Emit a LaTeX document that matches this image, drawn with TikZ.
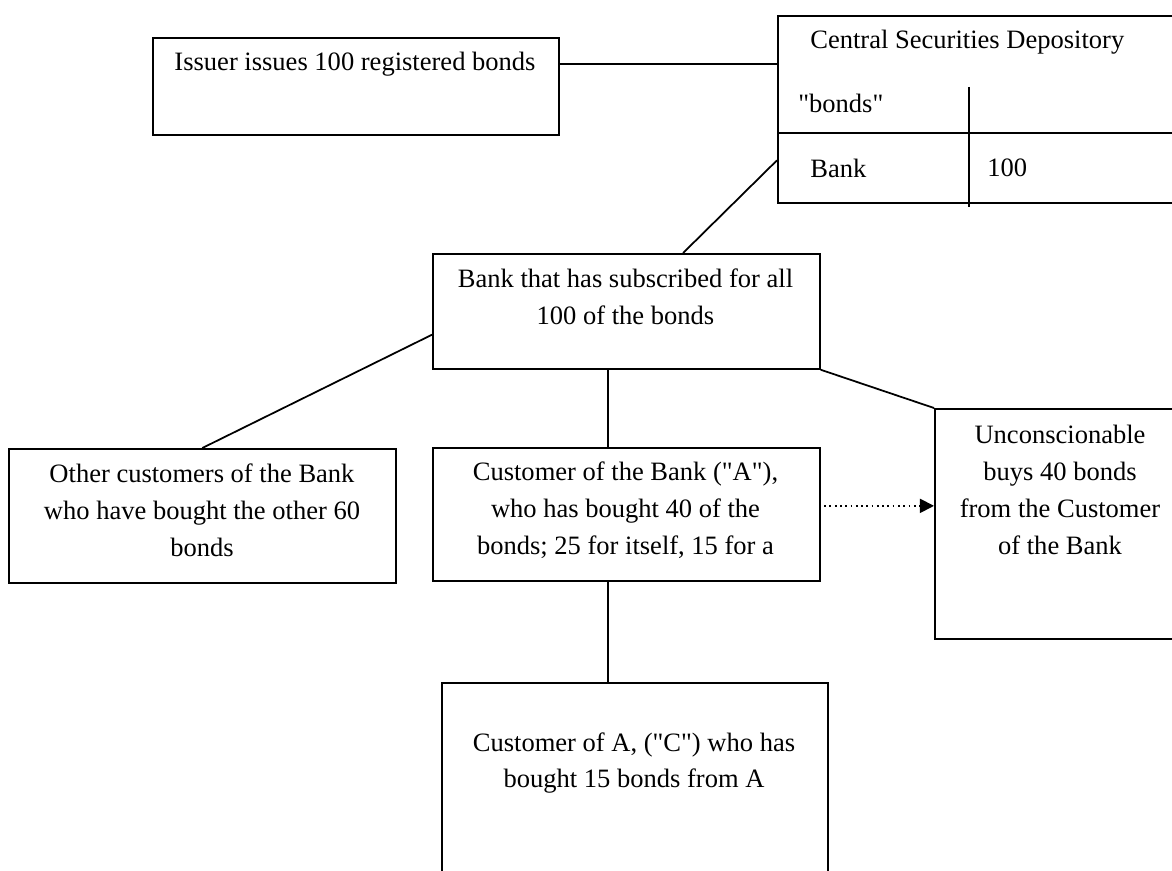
\documentclass[tikz,border=0pt]{standalone}
\usepackage{fontspec}
\setmainfont{Liberation Serif}
\usetikzlibrary{arrows.meta, positioning, calc}

\begin{document}
\begin{tikzpicture}[
        x=0.02cm, y=0.02cm,
        box/.style={rectangle, draw, line width=1pt, anchor=north west, inner sep=0pt},
        txt/.style={align=center, inner sep=0pt, font=\fontsize{15.1pt}{21pt}\selectfont},
        link/.style={line width=1pt},
        flow/.style={line width=1pt, dotted, -{Triangle[length=8pt, width=8pt]}}
    ]
        \clip (0,0) rectangle (1172,870);

        % Boxes
        \node[box, minimum width=8.12cm, minimum height=1.94cm] (issuer) at (152,833) {};
        \node[box, minimum width=8.26cm, minimum height=3.74cm] (csd) at (777,855) {};
        \node[box, minimum width=7.74cm, minimum height=2.30cm] (bank) at (432,617) {};
        \node[box, minimum width=7.74cm, minimum height=2.68cm] (other) at (8,422) {};
        \node[box, minimum width=7.74cm, minimum height=2.66cm] (custA) at (432,423) {};
        \node[box, minimum width=5.20cm, minimum height=4.60cm] (uncon) at (934,462) {};
        \node[box, minimum width=7.72cm, minimum height=4.20cm] (custC) at (441,188) {};

        % Register inside the depository
        \draw[link] (csd.west |- 0,737) -- (csd.east |- 0,737);
        \draw[link] (969,783) -- (969,663);

        % Texts
        \node[txt] (issuer-t) at (355,806) {Issuer issues 100 registered bonds};
        \node[txt, anchor=west] (csd-t) at (810,828) {Central Securities Depository};
        \node[txt, anchor=west] (col-t) at (798,767) {\textquotedbl bonds\textquotedbl};
        \node[txt, anchor=west] (row-t) at (810,702) {Bank};
        \node[txt, anchor=west] (qty-t) at (987,702) {100};
        \node[txt] (bank-t) at (625.5,573) {Bank that has subscribed for all\\100 of the bonds};
        \node[txt] (other-t) at (202,360) {Other customers of the Bank\\who have bought the other 60\\bonds};
        \node[txt] (custA-t) at (625.5,360) {Customer of the Bank (\textquotedbl A\textquotedbl),\\who has bought 40 of the\\bonds; 25 for itself, 15 for a};
        \node[txt] (uncon-t) at (1060,380) {Unconscionable\\buys 40 bonds\\from the Customer\\of the Bank};
        \node[txt] (custC-t) at (634,107) {Customer of A, (\textquotedbl C\textquotedbl) who has\\bought 15 bonds from A};

        % Connections
        \coordinate (issuer-r) at ($(issuer.north east)!0.27!(issuer.south east)$);
        \draw[link] (issuer-r) -- (issuer-r -| csd.west);
        \draw[link] ($(csd.south west)!0.23!(csd.north west)$) -- ($(bank.north west)!0.646!(bank.north east)$);
        \draw[link] ($(bank.north west)!0.70!(bank.south west)$) -- (other.north);
        \coordinate (trunk) at ($(bank.south west)!0.452!(bank.south east)$);
        \draw[link] (trunk) -- (trunk |- custA.north);
        \draw[link] (trunk |- custA.south) -- (trunk |- custC.north);
        \draw[link] (bank.south east) -- (uncon.north west);

        % Sale to Unconscionable
        \coordinate (sale) at ($(custA.east)+(0,8.5)$);
        \draw[flow] ([xshift=2pt]sale) -- (sale -| uncon.west);
    \end{tikzpicture}
\end{document}
